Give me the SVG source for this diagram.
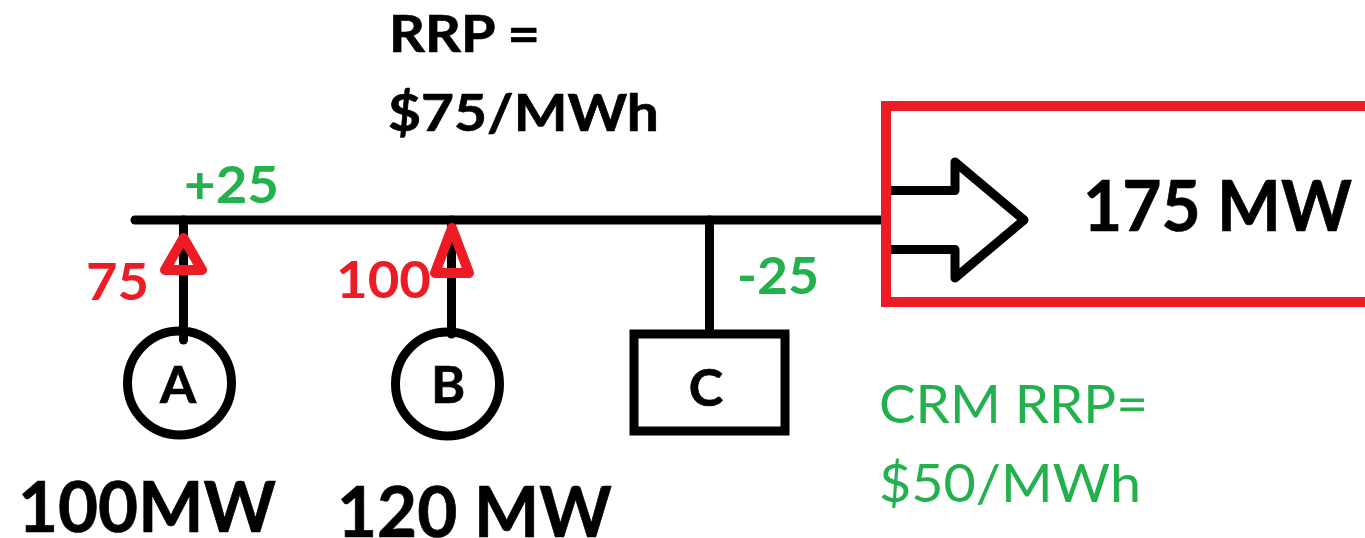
<svg xmlns="http://www.w3.org/2000/svg" width="1365" height="538" viewBox="0 0 1365 538">
<style>
text{font-family:Lato,"Open Sans","Liberation Sans",sans-serif}
.b{font-weight:700;fill:#000;stroke:#000;stroke-width:.7}
.line{fill:none;stroke:#000;stroke-width:9;stroke-linecap:round;stroke-linejoin:round}
.red{fill:#ed1c24;font-weight:700}
.grn{fill:#22b14c;font-weight:700}
.up{fill:none;stroke:#ed1c24;stroke-width:10;stroke-linejoin:round}
.s{font-size:52px}
.l{font-size:70px}
</style>
<rect width="1365" height="538" fill="#fff"/>
<g id="connectors">
<path class="line" d="M135 220H884"/>
<path class="line" d="M183.500 220V340"/>
<path class="line" d="M451.500 220V334"/>
<path class="line" d="M709.500 220V332"/>
<path class="up" d="M183.500 238L202 270H165Z"/>
<path class="up" d="M452 228L469 273H435Z"/>
</g>
<g id="load">
<path class="line" d="M888 190.500H955V162L1024 220L955 278V249.500H888"/>
<rect x="886" y="106" width="490" height="196" fill="none" stroke="#ed1c24" stroke-width="10"/>
<text class="b l" x="1083" y="231" textLength="269" lengthAdjust="spacingAndGlyphs">175 MW</text></g>
<g id="A"><circle cx="179.500" cy="383" r="52" fill="none" stroke="#000" stroke-width="9"/><text class="b s" x="178" y="403" text-anchor="middle">A</text></g>
<g id="B"><circle cx="447.500" cy="384" r="52" fill="none" stroke="#000" stroke-width="9"/><text class="b s" x="448" y="403" text-anchor="middle">B</text></g>
<g id="C"><rect x="634" y="334" width="151" height="97" fill="#fff" stroke="#000" stroke-width="9"/><text class="b s" x="706" y="406" text-anchor="middle">C</text></g>
<text class="b s" x="389" y="52" textLength="151" lengthAdjust="spacingAndGlyphs">RRP =</text>
<text class="b s" x="388" y="131" textLength="271" lengthAdjust="spacingAndGlyphs">$75/MWh</text>
<text class="grn s" x="184" y="203" textLength="95" lengthAdjust="spacingAndGlyphs">+25</text>
<text class="grn s" x="737" y="294" textLength="82" lengthAdjust="spacingAndGlyphs">-25</text>
<text class="red s" x="86" y="300" textLength="63" lengthAdjust="spacingAndGlyphs">75</text>
<text class="red s" x="336" y="298" textLength="95" lengthAdjust="spacingAndGlyphs">100</text>
<text class="s" x="879" y="423" fill="#22b14c" textLength="269" lengthAdjust="spacingAndGlyphs">CRM RRP=</text>
<text class="s" x="879" y="502" fill="#22b14c" textLength="262" lengthAdjust="spacingAndGlyphs">$50/MWh</text>
<text class="b l" x="18" y="532" textLength="258" lengthAdjust="spacingAndGlyphs">100MW</text>
<text class="b l" x="337" y="537" textLength="275" lengthAdjust="spacingAndGlyphs">120 MW</text>
</svg>
